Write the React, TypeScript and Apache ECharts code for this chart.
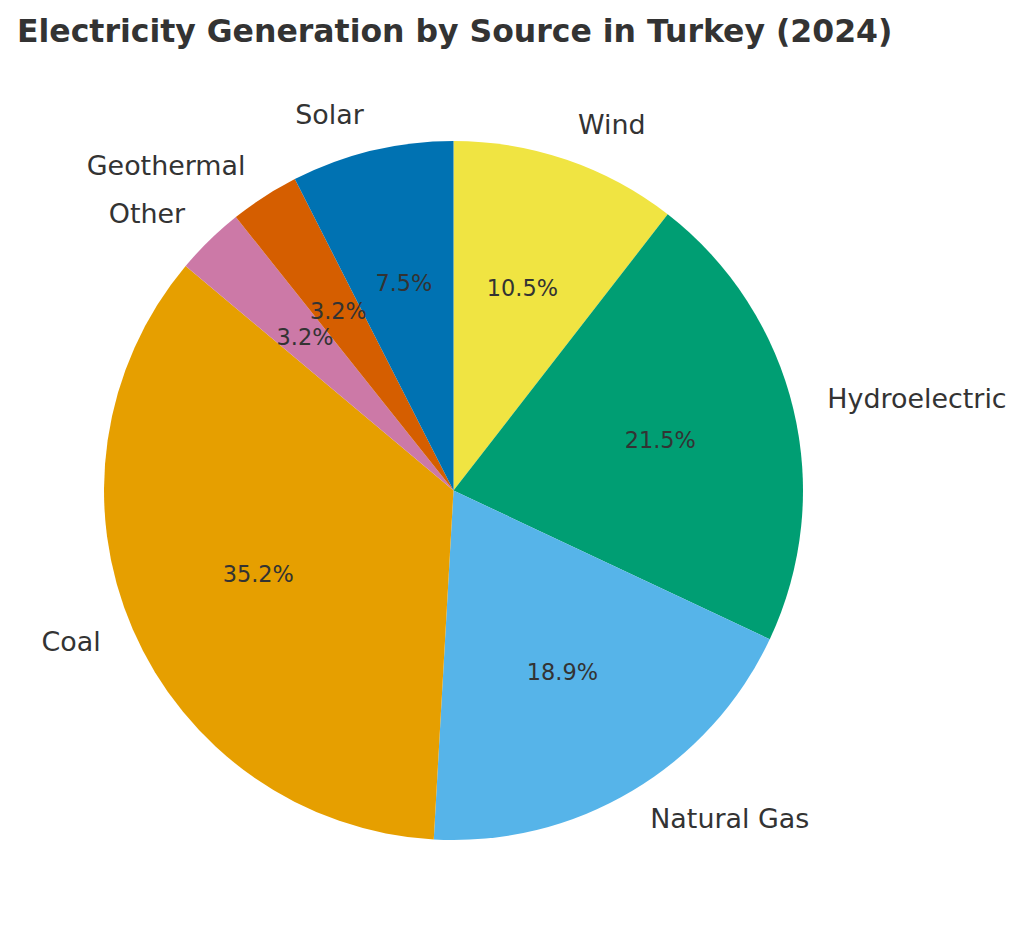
import React, { useEffect, useRef } from "react";
import * as echarts from "echarts";

const titleText = "Electricity Generation by Source in Turkey (2024)";
const categories = ["Wind", "Hydroelectric", "Natural Gas", "Coal", "Other", "Geothermal", "Solar"];
const shares = [10.5, 21.5, 18.9, 35.2, 3.2, 3.2, 7.5];
const colors = ["#F0E442", "#009E73", "#56B4E9", "#E69F00", "#CC79A7", "#D55E00", "#0072B2"];

const FONT = "DejaVu Sans";
const TEXT = "#333333";
const CX = 453.5;
const CY = 490.5;
const R = 349.5;

export default function App() {
  const ref = useRef<HTMLDivElement>(null);
  useEffect(() => {
    document.body.style.margin = "0";
    const chart = echarts.init(ref.current!, null, { renderer: "svg" });
    const total = shares.reduce((a, b) => a + b, 0);
    const data = categories.map((name, i) => ({
      name,
      value: shares[i],
      itemStyle: { color: colors[i] },
    }));
    chart.setOption({
      animation: false,
      backgroundColor: "#ffffff",
      title: {
        text: titleText,
        left: 17,
        top: 14.5,
        padding: 0,
        textStyle: { fontFamily: FONT, fontSize: 31.5, fontWeight: "bold", color: TEXT },
      },
      series: [
        {
          type: "pie",
          center: [CX, CY],
          radius: [0, R],
          startAngle: 90,
          clockwise: true,
          avoidLabelOverlap: false,
          silent: true,
          itemStyle: { borderWidth: 0 },
          label: {
            show: true,
            position: "outside",
            formatter: "{b}",
            fontFamily: FONT,
            fontSize: 26.9,
            color: TEXT,
            distanceToLabelLine: 0,
            offset: [0, -2],
          },
          labelLine: { show: false, length: R * 0.1, length2: 0 },
          data,
        },
        {
          type: "pie",
          center: [CX, CY],
          radius: [R * 0.2, R],
          startAngle: 90,
          clockwise: true,
          avoidLabelOverlap: false,
          silent: true,
          itemStyle: { color: "rgba(0,0,0,0)", borderWidth: 0 },
          label: {
            show: true,
            position: "inside",
            formatter: (p: any) => ((p.value / total) * 100).toFixed(1) + "%",
            fontFamily: FONT,
            fontSize: 22.4,
            color: TEXT,
            offset: [0, -1],
          },
          labelLine: { show: false },
          data: categories.map((name, i) => ({ name, value: shares[i] })),
        },
      ],
    });
    return () => chart.dispose();
  }, []);
  return <div ref={ref} style={{ width: 1024, height: 944 }} />;
}
